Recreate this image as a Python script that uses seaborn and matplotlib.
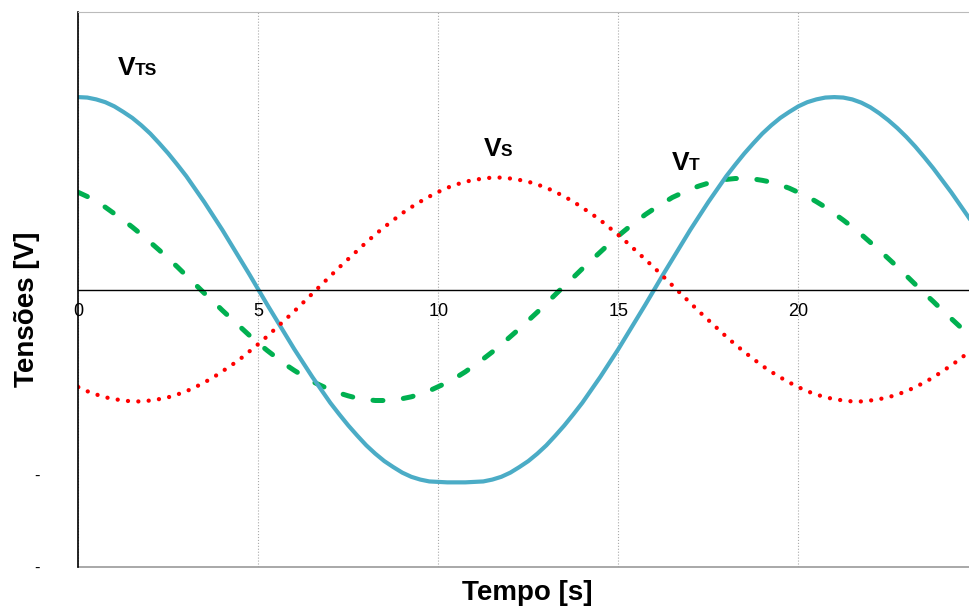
import numpy as np
import pandas as pd
import matplotlib
matplotlib.use("Agg")
import matplotlib.pyplot as plt
import seaborn as sns

# time axis [s], one reading every 0.25 s
t = np.arange(0, 25.25, 0.25)

# tensões [V]
v_ts = [4.16, 4.15, 4.11, 4.05, 3.96, 3.84, 3.71, 3.55, 3.37, 3.16,
        2.94, 2.70, 2.45, 2.17, 1.89, 1.59, 1.29, 0.97, 0.65, 0.33, 0.00,
        -0.33, -0.65, -0.97, -1.29, -1.59, -1.89, -2.17, -2.45, -2.70, -2.94,
        -3.16, -3.37, -3.55, -3.71, -3.84, -3.96, -4.05, -4.11, -4.15, -4.16,
        -4.17, -4.17, -4.17, -4.16,
        -4.15, -4.11, -4.05, -3.96, -3.84, -3.71, -3.55, -3.37, -3.16, -2.94,
        -2.70, -2.45, -2.17, -1.89, -1.59, -1.29, -0.97, -0.65, -0.33, 0.00,
        0.33, 0.65, 0.97, 1.29, 1.59, 1.89, 2.17, 2.45, 2.70, 2.94,
        3.16, 3.37, 3.55, 3.71, 3.84, 3.96, 4.05, 4.11, 4.15, 4.16,
        4.15, 4.11, 4.04, 3.94, 3.81, 3.66, 3.49, 3.30, 3.09, 2.86,
        2.62, 2.36, 2.10, 1.82, 1.54, 1.25]
v_s = [-2.11, -2.20, -2.27, -2.33, -2.37, -2.40, -2.42, -2.42, -2.40, -2.37,
       -2.33, -2.27, -2.20, -2.11, -2.01, -1.90, -1.77, -1.64, -1.50, -1.34,
       -1.18, -1.01, -0.83, -0.65, -0.47, -0.28, -0.09, 0.10, 0.29, 0.48,
       0.66, 0.84, 1.02, 1.19, 1.35, 1.50, 1.65, 1.78, 1.90, 2.01,
       2.11, 2.20, 2.27, 2.33, 2.37, 2.40, 2.42, 2.42, 2.40, 2.37,
       2.33, 2.27, 2.20, 2.11, 2.01, 1.90, 1.77, 1.64, 1.50, 1.34,
       1.18, 1.01, 0.83, 0.65, 0.47, 0.28, 0.09, -0.10, -0.29, -0.48,
       -0.66, -0.84, -1.02, -1.19, -1.35, -1.50, -1.65, -1.78, -1.90, -2.01,
       -2.11, -2.20, -2.27, -2.33, -2.37, -2.40, -2.42, -2.42, -2.40, -2.37,
       -2.33, -2.27, -2.20, -2.11, -2.01, -1.90, -1.77, -1.64, -1.50, -1.34,
       -1.18]
v_t = [2.10, 2.01, 1.90, 1.78, 1.64, 1.50, 1.35, 1.19, 1.02, 0.85,
       0.67, 0.49, 0.30, 0.11, -0.08, -0.26, -0.45, -0.63, -0.81, -0.99,
       -1.16, -1.32, -1.47, -1.62, -1.75, -1.87, -1.99, -2.08, -2.17, -2.24,
       -2.30, -2.35, -2.38, -2.40, -2.40, -2.39, -2.36, -2.32, -2.26, -2.19,
       -2.10, -2.01, -1.90, -1.78, -1.64, -1.50, -1.35, -1.19, -1.02, -0.85,
       -0.67, -0.49, -0.30, -0.11, 0.08, 0.26, 0.45, 0.63, 0.81, 0.99,
       1.16, 1.32, 1.47, 1.62, 1.75, 1.87, 1.99, 2.08, 2.17, 2.24,
       2.30, 2.35, 2.38, 2.40, 2.40, 2.39, 2.36, 2.32, 2.26, 2.19,
       2.10, 2.01, 1.90, 1.78, 1.64, 1.50, 1.35, 1.19, 1.02, 0.85,
       0.67, 0.49, 0.30, 0.11, -0.08, -0.26, -0.45, -0.63, -0.81, -0.99,
       -1.16]

x_ticklabels = ["0", "5", "10", "15", "20"]

df = pd.DataFrame({"t": t, "VTS": v_ts, "VS": v_s, "VT": v_t})

sns.set_style("white")
plt.rcParams["font.family"] = ["Liberation Sans", "DejaVu Sans"]
plt.rcParams["text.color"] = "black"
plt.rcParams["xtick.color"] = "black"
plt.rcParams["ytick.color"] = "black"

fig = plt.figure(figsize=(9.7, 6.1), dpi=100)
ax = fig.add_axes([78.3 / 970, 43 / 610, 891 / 970, 555 / 610])

sns.lineplot(x="t", y="VT", data=df, ax=ax, color="#00B050", lw=3.6,
             linestyle=(0, (2.0, 4.1)), dash_capstyle="round")
sns.lineplot(x="t", y="VTS", data=df, ax=ax, color="#4BACC6", lw=3.0,
             solid_joinstyle="round")
sns.lineplot(x="t", y="VS", data=df, ax=ax, color="#FF0000", lw=3.1,
             linestyle=(0, (0.01, 2.4)), dash_capstyle="round")

ax.set_xlim(0, 24.75)
ax.set_ylim(-6, 6)

# x axis sits on zero, frame in light grey
ax.spines["bottom"].set_position(("data", 0))
ax.spines["bottom"].set_color("black")
ax.spines["bottom"].set_linewidth(1.0)
ax.spines["left"].set_color("black")
ax.spines["left"].set_linewidth(1.2)
ax.spines["top"].set_color("#BBBBBB")
ax.spines["right"].set_visible(False)
ax.axhline(-6, color="#999999", lw=1.2, clip_on=False)

ax.set_xticks([0, 5, 10, 15, 20])
ax.set_xticklabels(x_ticklabels, fontsize=13)
ax.set_xticks([2.5, 7.5, 12.5, 17.5, 22.5], minor=True)
ax.tick_params(axis="x", which="both", direction="out", length=4,
               color="#888888", labelcolor="black", pad=6)
ax.grid(axis="x", which="major", color="#AAAAAA", linestyle=":", lw=0.8)

yt = list(range(-6, 7))
ax.set_yticks(yt)
ax.set_yticklabels(["-" if v in (-4, -6) else "" for v in yt], fontsize=12)
ax.tick_params(axis="y", direction="inout", length=8, color="#333333",
               labelcolor="black", pad=24)

ax.set_xlabel("")
ax.set_ylabel("")
fig.text(527 / 970, 1 - 593 / 610, "Tempo [s]", ha="center", va="center",
         fontsize=20, fontweight="bold")
fig.text(27 / 970, 1 - 309 / 610, "Tensões [V]", ha="center", va="center",
         rotation=90, fontsize=20, fontweight="bold")

# labels: big V with smaller letters on the same baseline
for (lx, ly, sub) in [(1.09, 4.63, "TS"), (11.27, 2.88, "S"), (16.48, 2.59, "T")]:
    ax.text(lx, ly, "V", fontsize=19, fontweight="bold", ha="left", va="baseline")
    ax.annotate(sub, xy=(lx, ly), xytext=(12.2, 0), textcoords="offset points",
                fontsize=12.5, fontweight="bold", ha="left", va="baseline")

fig.savefig("out.png", dpi=100)
